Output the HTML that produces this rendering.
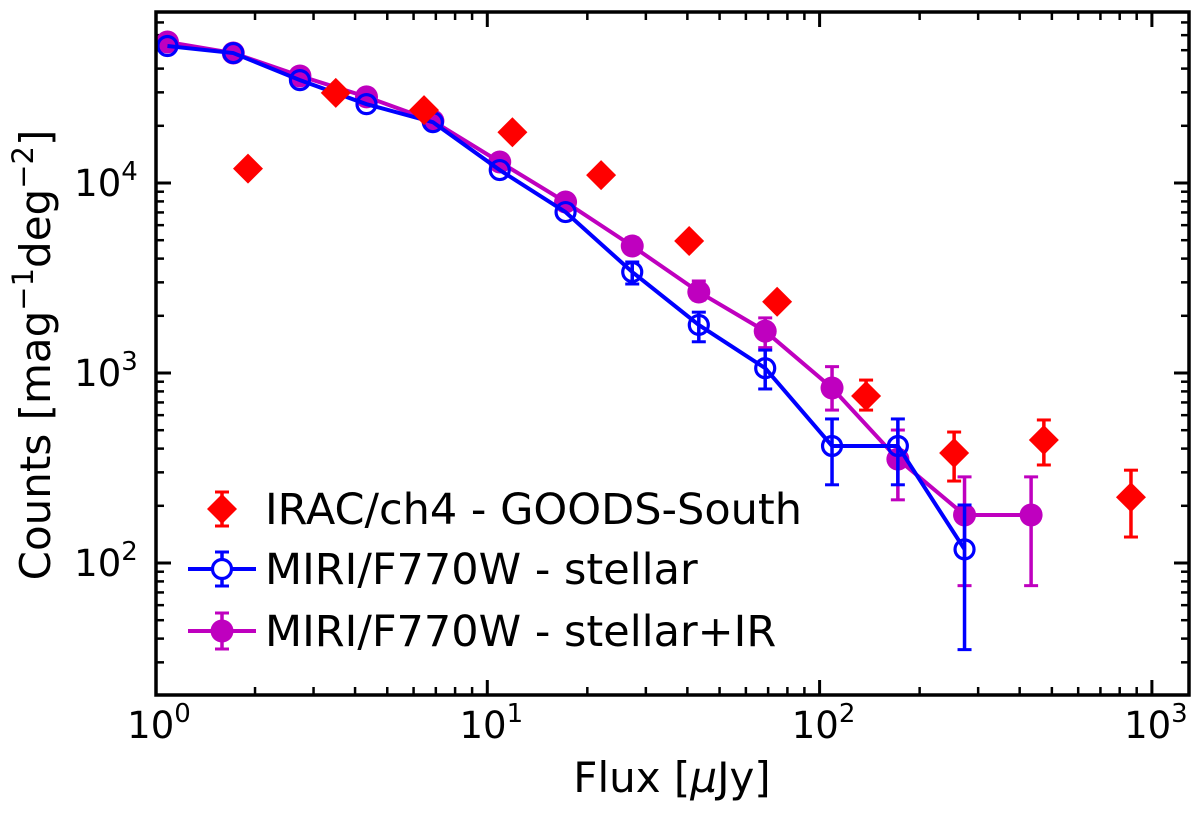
<!DOCTYPE html>
<html><head><meta charset="utf-8"><style>
html,body{margin:0;padding:0;background:#fff}
svg{display:block;font-family:"DejaVu Sans","Liberation Sans",sans-serif}
</style></head><body>
<svg id="chart" width="1200" height="813" viewBox="0 0 1200 813" xmlns="http://www.w3.org/2000/svg"></svg>
<script>
// ---- data ----
const stellarFlux = [1.09,1.72,2.73,4.33,6.86,10.9,17.2,27.3,43.3,68.6,109,172,273];
const stellarCounts = [52600,48300,34800,26000,20900,11700,7030,3400,1790,1060,413,413,118];
const stellarLo = [null,null,null,null,null,null,null,2940,1460,824,258,258,35];
const stellarHi = [null,null,null,null,null,null,null,3840,2090,1320,573,573,202];
const irFlux = [1.09,1.72,2.73,4.33,6.86,10.9,17.2,27.3,43.3,68.6,109,172,273,433];
const irCounts = [55200,48300,36600,28400,21200,12900,7940,4660,2670,1660,834,352,179,179];
const irLo = [null,null,null,null,null,null,null,4340,2420,1360,638,215,76,76];
const irHi = [null,null,null,null,null,null,null,5140,3050,1950,1080,501,284,284];
const iracFlux = [1.905,3.5,6.45,11.9,22,40.5,74.5,138,254,473,865];
const iracCounts = [11900,29800,24200,18500,11000,4950,2370,757,379,444,222];
const iracLo = [null,null,null,null,null,null,null,638,270,328,137];
const iracHi = [null,null,null,null,null,null,null,918,489,566,308];
const xTickExps = [0,1,2,3];
const yTickExps = [2,3,4];

// ---- axes ----
const L=156,R=1189,T=12,B=695;
const X0=155,XD=332.3, Y4=183, YD=190;
const sx=v=>X0+Math.log10(v)*XD;
const sy=v=>Y4-(Math.log10(v)-4)*YD;
const xMin=Math.pow(10,(L-X0)/XD), xMax=Math.pow(10,(R-X0)/XD);
const yMax=Math.pow(10,4+(Y4-T)/YD), yMin=Math.pow(10,4-(B-Y4)/YD);
const svg=document.getElementById('chart');
const NS='http://www.w3.org/2000/svg';
function mk(tag,attrs,parent){const e=document.createElementNS(NS,tag);for(const k in attrs)e.setAttribute(k,attrs[k]);(parent||svg).appendChild(e);return e;}

const ticks=mk('g',{});


for(let e=-1;e<=3;e++){for(let m=1;m<10;m++){const v=m*Math.pow(10,e);if(v<xMin||v>xMax)continue;const x=sx(v);const len=m===1?15:8;
 mk('line',{x1:x,y1:B,x2:x,y2:B-len,stroke:'#000','stroke-width':m===1?3:2.5},ticks);
 mk('line',{x1:x,y1:T,x2:x,y2:T+len,stroke:'#000','stroke-width':m===1?3:2.5},ticks);}}
for(let e=1;e<=5;e++){for(let m=1;m<10;m++){const v=m*Math.pow(10,e);if(v<yMin||v>yMax)continue;const y=sy(v);const len=m===1?15:8;
 mk('line',{x1:L,y1:y,x2:L+len,y2:y,stroke:'#000','stroke-width':m===1?3:2.5},ticks);
 mk('line',{x1:R,y1:y,x2:R-len,y2:y,stroke:'#000','stroke-width':m===1?3:2.5},ticks);}}
xTickExps.forEach(e=>{const t=mk('text',{x:sx(Math.pow(10,e))+4,y:738,'font-size':37,'text-anchor':'middle'});
 
 
 t.innerHTML='10<tspan dy="-16" font-size="26">'+e+'</tspan>';});
yTickExps.forEach(e=>{const t=mk('text',{x:106,y:sy(Math.pow(10,e))+13,'font-size':37,'text-anchor':'middle'});
 
 
 t.innerHTML='10<tspan dy="-16" font-size="26">'+e+'</tspan>';});

function series(name,xs,ys,lo,hi,color,kind,line){
 const g=mk('g',{});
 
 
 if(line){mk('polyline',{points:xs.map((v,i)=>sx(v)+','+sy(ys[i])).join(' '),fill:'none',stroke:color,'stroke-width':4},g);}
 xs.forEach((v,i)=>{if(lo[i]==null)return;const x=sx(v);
  mk('line',{x1:x,y1:sy(lo[i]),x2:x,y2:sy(hi[i]),stroke:color,'stroke-width':3.5},g);
  mk('line',{x1:x-7,y1:sy(lo[i]),x2:x+7,y2:sy(lo[i]),stroke:color,'stroke-width':3},g);
  mk('line',{x1:x-7,y1:sy(hi[i]),x2:x+7,y2:sy(hi[i]),stroke:color,'stroke-width':3},g);});
 xs.forEach((v,i)=>{const x=sx(v),y=sy(ys[i]);let m;
  if(kind==='open')m=mk('circle',{cx:x,cy:y,r:9.5,fill:'none',stroke:color,'stroke-width':3.2},g);
  else if(kind==='filled')m=mk('circle',{cx:x,cy:y,r:11.5,fill:color},g);
  else m=mk('polygon',{points:`${x},${y-15} ${x+15},${y} ${x},${y+15} ${x-15},${y}`,fill:color},g);
  
  });
}
series('series-stellar-ir',irFlux,irCounts,irLo,irHi,'#bf00bf','filled',true);
series('series-stellar',stellarFlux,stellarCounts,stellarLo,stellarHi,'#0000ff','open',true);
series('series-irac',iracFlux,iracCounts,iracLo,iracHi,'#ff0000','diamond',false);

mk('rect',{x:L,y:T,width:R-L,height:B-T,fill:'none',stroke:'#000','stroke-width':3.5});
</script>
<svg width="1200" height="813" style="position:absolute;left:0;top:0;font-family:'DejaVu Sans','Liberation Sans',sans-serif">
 <text x="672" y="792" font-size="42" text-anchor="middle">Flux [<tspan font-style="italic">μ</tspan>Jy]</text>
 <text transform="translate(50,355) rotate(-90)" font-size="42" text-anchor="middle">Counts [mag<tspan dy="-17" font-size="29">−1</tspan><tspan dy="17">deg</tspan><tspan dy="-17" font-size="29">−2</tspan><tspan dy="17">]</tspan></text>
 <g font-size="43">
  <g>
   <line x1="222" y1="492" x2="222" y2="526" stroke="#f00" stroke-width="3.5"/><line x1="215" y1="492" x2="229" y2="492" stroke="#f00" stroke-width="3"/><line x1="215" y1="526" x2="229" y2="526" stroke="#f00" stroke-width="3"/>
   <polygon points="222,494 237,509 222,524 207,509" fill="#f00"/>
   <text x="265" y="524">IRAC/ch4 - GOODS-South</text></g>
  <g>
   <line x1="188" y1="569" x2="256" y2="569" stroke="#00f" stroke-width="4"/><line x1="222" y1="552" x2="222" y2="586" stroke="#00f" stroke-width="3.5"/>
   <line x1="215" y1="552" x2="229" y2="552" stroke="#00f" stroke-width="3"/><line x1="215" y1="586" x2="229" y2="586" stroke="#00f" stroke-width="3"/>
   <circle cx="222" cy="569" r="9.5" fill="#fff" stroke="#00f" stroke-width="3.2"/>
   <text x="265" y="584">MIRI/F770W - stellar</text></g>
  <g>
   <line x1="188" y1="631" x2="256" y2="631" stroke="#bf00bf" stroke-width="4"/><line x1="222" y1="613" x2="222" y2="649" stroke="#bf00bf" stroke-width="3.5"/>
   <line x1="215" y1="613" x2="229" y2="613" stroke="#bf00bf" stroke-width="3"/><line x1="215" y1="649" x2="229" y2="649" stroke="#bf00bf" stroke-width="3"/>
   <circle cx="222" cy="631" r="11.5" fill="#bf00bf"/>
   <text x="265" y="646">MIRI/F770W - stellar+IR</text></g>
 </g>
</svg>
</body></html>
